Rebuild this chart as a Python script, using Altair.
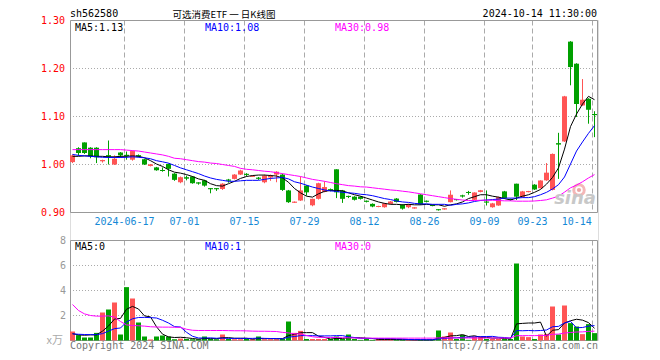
import altair as alt
import pandas as pd

# ---------------- data ----------------
opens = [1.005, 1.034, 1.046, 1.035, 1.035, 1.007, 1.019, 1.000, 1.025, 1.020,
         1.010, 1.019, 1.011, 0.997, 0.994, 0.988, 1.001, 0.981, 0.963, 0.973,
         0.975, 0.962, 0.967, 0.950, 0.950, 0.949, 0.968, 0.970, 0.979, 0.980,
         0.975, 0.972, 0.963, 0.973, 0.979, 0.979, 0.946, 0.921, 0.925, 0.956,
         0.915, 0.9285, 0.943, 0.948, 0.990, 0.946, 0.934, 0.933, 0.933, 0.924,
         0.918, 0.912, 0.911, 0.918, 0.929, 0.916, 0.911, 0.909, 0.9375, 0.924,
         0.915, 0.906, 0.907, 0.9215, 0.927, 0.935, 0.942, 0.9265, 0.943, 0.922,
         0.911, 0.9146, 0.944, 0.928, 0.960, 0.932, 0.943, 0.958, 0.9506, 0.967,
         0.947, 1.044, 1.048, 1.256, 1.210, 1.123, 1.137, 1.105]
closes = [1.019, 1.024, 1.024, 1.017, 1.015, 1.009, 1.017, 1.012, 1.019, 1.018,
          1.028, 1.017, 1.000, 1.000, 0.988, 0.987, 0.991, 0.968, 0.9735, 0.971,
          0.961, 0.961, 0.956, 0.949, 0.949, 0.960, 0.967, 0.979, 0.9875, 0.979,
          0.976, 0.971, 0.977, 0.977, 0.985, 0.947, 0.9215, 0.922, 0.946, 0.942,
          0.9285, 0.961, 0.953, 0.947, 0.942, 0.9285, 0.933, 0.9265, 0.9285, 0.923,
          0.9125, 0.913, 0.919, 0.923, 0.922, 0.908, 0.917, 0.910, 0.917, 0.923,
          0.914, 0.9055, 0.908, 0.937, 0.9265, 0.934, 0.9415, 0.9417, 0.946, 0.9215,
          0.919, 0.932, 0.930, 0.926, 0.933, 0.944, 0.944, 0.948, 0.9667, 0.983,
          1.022, 1.042, 1.142, 1.203, 1.126, 1.135, 1.114, 1.103]
highs = [1.021, 1.036, 1.046, 1.036, 1.036, 1.010, 1.050, 1.019, 1.026, 1.027,
         1.029, 1.021, 1.012, 1.001, 0.995, 0.994, 1.002, 0.982, 0.975, 0.977,
         0.976, 0.963, 0.968, 0.951, 0.951, 0.961, 0.970, 0.980, 0.989, 0.982,
         0.977, 0.974, 0.979, 0.979, 0.986, 0.981, 0.947, 0.923, 0.975, 0.957,
         0.929, 0.962, 0.965, 0.950, 0.990, 0.947, 0.935, 0.934, 0.934, 0.925,
         0.919, 0.914, 0.920, 0.924, 0.930, 0.917, 0.918, 0.911, 0.938, 0.925,
         0.916, 0.907, 0.909, 0.946, 0.928, 0.937, 0.945, 0.942, 0.947, 0.946,
         0.920, 0.933, 0.945, 0.929, 0.960, 0.945, 0.945, 0.959, 0.967, 1.003,
         1.023, 1.066, 1.143, 1.257, 1.211, 1.178, 1.138, 1.111]
lows = [1.003, 1.018, 1.022, 1.013, 1.003, 1.004, 1.000, 0.999, 1.014, 1.010,
        1.008, 1.015, 0.999, 0.996, 0.987, 0.985, 0.975, 0.966, 0.961, 0.967,
        0.960, 0.958, 0.954, 0.940, 0.945, 0.947, 0.962, 0.969, 0.978, 0.975,
        0.974, 0.968, 0.961, 0.966, 0.963, 0.945, 0.920, 0.920, 0.924, 0.935,
        0.913, 0.927, 0.942, 0.944, 0.930, 0.920, 0.930, 0.925, 0.927, 0.921,
        0.911, 0.911, 0.910, 0.917, 0.921, 0.906, 0.909, 0.908, 0.916, 0.921,
        0.913, 0.904, 0.906, 0.921, 0.925, 0.931, 0.937, 0.926, 0.942, 0.9146,
        0.910, 0.914, 0.929, 0.925, 0.926, 0.931, 0.942, 0.947, 0.950, 0.966,
        0.946, 0.970, 1.047, 1.165, 1.099, 1.122, 1.085, 1.057]
volumes = [0.72, 0.43, 0.24, 0.24, 0.61, 2.24, 2.48, 3.04, 0.48, 4.27,
           3.36, 1.44, 0.32, 0.08, 0.32, 0.40, 0.32, 0.10, 0.15, 0.12,
           0.10, 0.10, 0.32, 0.12, 0.10, 0.48, 0.12, 0.10, 0.10, 0.12,
           0.10, 0.32, 0.10, 0.10, 0.10, 0.12, 1.52, 0.61, 0.77, 0.12,
           0.12, 0.12, 0.12, 0.12, 0.32, 0.12, 0.48, 0.12, 0.05, 0.12,
           0.05, 0.12, 0.05, 0.12, 0.05, 0.05, 0.05, 0.05, 0.05, 0.05,
           0.05, 0.80, 0.32, 0.64, 0.12, 0.45, 0.05, 0.32, 0.32, 0.12,
           0.12, 0.12, 0.12, 0.12, 6.16, 0.32, 0.27, 0.12, 0.48, 0.53,
           2.72, 0.48, 2.80, 1.39, 1.12, 0.51, 1.31, 0.59]
ma5 = [1.017, 1.017, 1.018, 1.018, 1.017, 1.017, 1.016, 1.016, 1.017, 1.017,
       1.018, 1.017, 1.014, 1.008, 1.001, 0.996, 0.989, 0.984, 0.982, 0.979,
       0.975, 0.970, 0.967, 0.960, 0.956, 0.955, 0.960, 0.965, 0.971, 0.975,
       0.977, 0.978, 0.978, 0.977, 0.976, 0.972, 0.963, 0.950, 0.941, 0.934,
       0.932, 0.939, 0.944, 0.946, 0.946, 0.945, 0.941, 0.937, 0.934, 0.930,
       0.926, 0.922, 0.919, 0.917, 0.917, 0.916, 0.917, 0.916, 0.916, 0.917,
       0.916, 0.916, 0.913, 0.916, 0.918, 0.922, 0.929, 0.933, 0.937, 0.937,
       0.934, 0.932, 0.929, 0.926, 0.930, 0.934, 0.937, 0.942, 0.948, 0.959,
       0.973, 0.993, 1.032, 1.079, 1.105, 1.126, 1.142, 1.135]
ma10 = [1.021, 1.019, 1.018, 1.017, 1.016, 1.015, 1.0146, 1.0146, 1.0146, 1.015,
        1.016, 1.015, 1.014, 1.012, 1.008, 1.0056, 1.0028, 0.998, 0.993, 0.989,
        0.985, 0.981, 0.976, 0.972, 0.969, 0.967, 0.965, 0.965, 0.966, 0.967,
        0.967, 0.967, 0.969, 0.971, 0.972, 0.973, 0.970, 0.964, 0.961, 0.957,
        0.953, 0.950, 0.947, 0.945, 0.944, 0.942, 0.941, 0.940, 0.938, 0.937,
        0.935, 0.932, 0.929, 0.927, 0.924, 0.922, 0.921, 0.919, 0.918, 0.918,
        0.917, 0.917, 0.917, 0.915, 0.917, 0.918, 0.920, 0.923, 0.925, 0.926,
        0.927, 0.928, 0.930, 0.930, 0.930, 0.931, 0.931, 0.933, 0.937, 0.942,
        0.949, 0.958, 0.974, 1.001, 1.028, 1.047, 1.065, 1.081]
ma30 = [1.031, 1.031, 1.031, 1.031, 1.031, 1.031, 1.031, 1.031, 1.031, 1.030,
        1.029, 1.028, 1.026, 1.024, 1.022, 1.020, 1.017, 1.013, 1.012, 1.010,
        1.008, 1.006, 1.005, 1.003, 1.002, 1.000, 0.998, 0.996, 0.992, 0.990,
        0.989, 0.9875, 0.986, 0.985, 0.983, 0.981, 0.979, 0.977, 0.975, 0.972,
        0.969, 0.967, 0.965, 0.9625, 0.960, 0.958, 0.956, 0.955, 0.9535, 0.953,
        0.9515, 0.950, 0.9486, 0.947, 0.946, 0.9444, 0.943, 0.941, 0.939, 0.937,
        0.935, 0.933, 0.931, 0.929, 0.9275, 0.926, 0.925, 0.925, 0.9255, 0.9255,
        0.9255, 0.925, 0.9243, 0.9243, 0.9236, 0.9236, 0.9236, 0.924, 0.925, 0.9264,
        0.930, 0.934, 0.9424, 0.9514, 0.957, 0.964, 0.972, 0.979]
vma5 = [0.55, 0.45, 0.42, 0.45, 0.45, 0.75, 1.16, 1.72, 1.77, 2.50,
        2.73, 2.52, 1.97, 1.89, 1.10, 0.51, 0.29, 0.24, 0.26, 0.22,
        0.16, 0.11, 0.16, 0.15, 0.15, 0.22, 0.23, 0.18, 0.18, 0.18,
        0.11, 0.15, 0.15, 0.15, 0.14, 0.15, 0.39, 0.49, 0.62, 0.63,
        0.63, 0.35, 0.25, 0.12, 0.16, 0.16, 0.23, 0.23, 0.22, 0.18,
        0.16, 0.09, 0.08, 0.09, 0.08, 0.07, 0.06, 0.05, 0.05, 0.05,
        0.05, 0.20, 0.25, 0.37, 0.39, 0.47, 0.32, 0.38, 0.26, 0.25,
        0.19, 0.20, 0.16, 0.12, 1.33, 1.37, 1.40, 1.40, 1.47, 0.34,
        0.82, 0.87, 1.40, 1.58, 1.70, 1.63, 1.43, 0.98]
vma10 = [0.53, 0.50, 0.48, 0.47, 0.47, 0.55, 0.75, 0.95, 1.00, 1.48,
         1.74, 1.84, 1.85, 1.83, 1.80, 1.62, 1.40, 1.11, 1.08, 0.66,
         0.34, 0.20, 0.20, 0.21, 0.18, 0.19, 0.17, 0.17, 0.17, 0.17,
         0.17, 0.19, 0.17, 0.16, 0.16, 0.13, 0.27, 0.32, 0.39, 0.39,
         0.39, 0.37, 0.37, 0.37, 0.39, 0.39, 0.29, 0.24, 0.17, 0.17,
         0.16, 0.16, 0.155, 0.155, 0.13, 0.12, 0.08, 0.07, 0.07, 0.06,
         0.06, 0.13, 0.16, 0.21, 0.22, 0.26, 0.26, 0.285, 0.31, 0.32,
         0.33, 0.26, 0.24, 0.19, 0.79, 0.78, 0.80, 0.78, 0.80, 0.84,
         1.10, 1.13, 1.40, 1.53, 1.02, 1.04, 1.15, 1.19]
vma30 = [2.88, 2.40, 2.13, 2.00, 1.95, 1.95, 1.97, 1.87, 1.52, 1.25,
         1.20, 1.18, 1.15, 1.10, 1.08, 1.07, 1.07, 1.06, 1.05, 0.90,
         0.82, 0.80, 0.80, 0.80, 0.80, 0.80, 0.79, 0.78, 0.78, 0.77,
         0.75, 0.74, 0.74, 0.73, 0.72, 0.65, 0.61, 0.53, 0.54, 0.40,
         0.30, 0.25, 0.25, 0.24, 0.24, 0.22, 0.22, 0.20, 0.19, 0.19,
         0.19, 0.19, 0.19, 0.19, 0.19, 0.19, 0.19, 0.19, 0.19, 0.19,
         0.19, 0.21, 0.21, 0.22, 0.20, 0.20, 0.20, 0.20, 0.20, 0.20,
         0.20, 0.20, 0.20, 0.20, 0.38, 0.39, 0.39, 0.39, 0.40, 0.41,
         0.50, 0.51, 0.60, 0.64, 0.68, 0.69, 0.73, 0.75]

tick_index = [9, 19, 29, 39, 49, 59, 69, 77, 87]
tick_labels = ["2024-06-17", "07-01", "07-15", "07-29", "08-12",
               "08-26", "09-09", "09-23", "10-14"]
price_ticks = [1.30, 1.20, 1.10, 1.00, 0.90]
price_grid = [1.20, 1.10, 1.00]
vol_ticks = [8, 6, 4, 2]
vol_grid = [6, 4, 2]

# ---------------- styling ----------------
RED = "#ff5555"
GREEN = "#00a000"
GRID = "#aaaaaa"
FRAME = "#999999"
MONO = "DejaVu Sans Mono"
CJK = "Noto Sans CJK SC"
W, H = 528, 320

n = len(closes)
df = pd.DataFrame({
    "i": list(range(n)), "open": opens, "high": highs, "low": lows,
    "close": closes, "vol": volumes, "ma5": ma5, "ma10": ma10, "ma30": ma30,
    "vma5": vma5, "vma10": vma10, "vma30": vma30,
})
df["dir"] = ["up" if c >= o else "down" for o, c in zip(opens, closes)]

X = alt.Scale(domain=[0, 88], nice=False, zero=False)
PY = alt.Scale(domain=[0.90, 1.30], range=[192.5, 0.5], nice=False, zero=False)
VY = alt.Scale(domain=[0, 8], range=[320.5, 220.5], nice=False, zero=False)
colr = alt.Color("dir:N", scale=alt.Scale(domain=["up", "down"], range=[RED, GREEN]), legend=None)

base = alt.Chart(df).transform_calculate(
    xl="datum.i", xr="datum.i + 5/6", xm="datum.i + 2.5/6",
    mid="(datum.open + datum.close) / 2",
)

def xq(f):
    return alt.X(f, type="quantitative", scale=X, axis=None)

def py(f):
    return alt.Y(f, type="quantitative", scale=PY, axis=None)

def vy(f):
    return alt.Y(f, type="quantitative", scale=VY, axis=None)

# grid lines
pgrid = alt.Chart(pd.DataFrame({"v": price_grid})).mark_rule(
    color=GRID, strokeDash=[1, 2], strokeWidth=1
).encode(y=py("v"), x=alt.value(0), x2=alt.value(W))
vgrid = alt.Chart(pd.DataFrame({"v": vol_grid})).mark_rule(
    color=GRID, strokeDash=[1, 2], strokeWidth=1
).encode(y=vy("v"), x=alt.value(0), x2=alt.value(W))

ticks_df = pd.DataFrame({"i": tick_index, "label": tick_labels})
tick_base = alt.Chart(ticks_df).transform_calculate(
    tx="datum.i + 0.5/6", lx="min(datum.i + 0.5/6, 84.45)"
)
pdash = tick_base.mark_rule(color=GRID, strokeDash=[5, 3], strokeWidth=1).encode(
    x=xq("tx"), y=alt.value(0.5), y2=alt.value(192.5))
vdash = tick_base.mark_rule(color=GRID, strokeDash=[5, 3], strokeWidth=1).encode(
    x=xq("tx"), y=alt.value(220.5), y2=alt.value(320.5))
date_labels = tick_base.mark_text(
    font=MONO, fontSize=10, color="#1589d6", align="center", baseline="alphabetic"
).encode(x=xq("lx"), y=alt.value(205), text="label:N")

one = pd.DataFrame({"k": [0]})
pframe = alt.Chart(one).mark_rect(fillOpacity=0, stroke=FRAME, strokeWidth=1).encode(
    x=alt.value(0.5), x2=alt.value(W - 0.5), y=alt.value(0.5), y2=alt.value(192.5))
vframe = alt.Chart(one).mark_rect(fillOpacity=0, stroke=FRAME, strokeWidth=1).encode(
    x=alt.value(0.5), x2=alt.value(W - 0.5), y=alt.value(220.5), y2=alt.value(320.5))

# watermark logo (eye + "sina")
eye_ring = alt.Chart(one).mark_point(
    filled=False, shape="circle", size=110, strokeWidth=3, color="#f3b0b0", opacity=0.9
).encode(x=alt.value(509), y=alt.value(170))
eye_dot = alt.Chart(one).mark_point(
    filled=True, shape="circle", size=18, color="#e89a9a", opacity=0.9
).encode(x=alt.value(509), y=alt.value(170))

# candles
wick = base.mark_rule(strokeWidth=1).encode(x=xq("xm"), y=py("low"), y2="high:Q", color=colr)
body = base.mark_rect().encode(x=xq("xl"), x2="xr:Q", y=py("open"), y2="close:Q", color=colr)
doji = base.mark_rule(strokeWidth=1).encode(x=xq("xl"), x2="xr:Q", y=py("mid"), color=colr)

l5 = base.mark_line(color="black", strokeWidth=1).encode(x=xq("xm"), y=py("ma5"))
l10 = base.mark_line(color="#0000ff", strokeWidth=1).encode(x=xq("xm"), y=py("ma10"))
l30 = base.mark_line(color="#ff00ff", strokeWidth=1).encode(x=xq("xm"), y=py("ma30"))

# volume
vbar = base.mark_rect().encode(x=xq("xl"), x2="xr:Q", y=vy("vol"), y2=alt.datum(0), color=colr)
v5 = base.mark_line(color="black", strokeWidth=1).encode(x=xq("xm"), y=vy("vma5"))
v10 = base.mark_line(color="#0000ff", strokeWidth=1).encode(x=xq("xm"), y=vy("vma10"))
v30 = base.mark_line(color="#ff00ff", strokeWidth=1).encode(x=xq("xm"), y=vy("vma30"))

# axis labels
plabels = alt.Chart(pd.DataFrame({"v": price_ticks})).transform_calculate(
    t="format(datum.v, '.2f')"
).mark_text(font=MONO, fontSize=10, color="#ff0000", align="right", baseline="middle").encode(
    y=py("v"), x=alt.value(-5), text="t:N")
vlabels = alt.Chart(pd.DataFrame({"v": vol_ticks})).mark_text(
    font=MONO, fontSize=10, color="#999999", align="right", baseline="middle"
).encode(y=vy("v"), x=alt.value(-4), text="v:Q")

def txt(s, x, y, color="black", align="left", size=10, font=MONO, **kw):
    return alt.Chart(one).mark_text(
        text=s, font=font, fontSize=size, color=color, align=align,
        baseline="alphabetic", **kw
    ).encode(x=alt.value(x), y=alt.value(y))

texts = [
    txt("sh562580", 0, -3),
    txt("可选消费ETF 一 日K线图", 154, -1.8, size=9.5, font=CJK, align="center"),
    txt("2024-10-14 11:30:00", W - 1, -3, align="right"),
    txt("MA5:1.13", 5, 10.5),
    txt("MA10:1.08", 135, 10.5, color="#0000ff"),
    txt("MA30:0.98", 265, 10.5, color="#ff00ff"),
    txt("MA5:0", 5, 230),
    txt("MA10:1", 135, 230, color="#0000ff"),
    txt("MA30:0", 265, 230, color="#ff00ff"),
    txt("x万", -7, 324, color="#aaaaaa", align="right", size=11, font=CJK),
    txt("Copyright 2024 SINA.COM", 0, 329, color="#777777"),
    txt("http://finance.sina.com.cn", W, 329, color="#777777", align="right"),
    txt("sina", W - 2, 184, color="#c8c8c8", align="right", size=18,
        font="DejaVu Sans", fontStyle="italic", fontWeight="bold"),
]

chart = alt.layer(
    pgrid, vgrid, pdash, vdash, pframe, vframe, eye_ring, eye_dot,
    wick, body, doji, l5, l10, l30,
    vbar, v5, v10, v30,
    plabels, vlabels, date_labels, *texts,
).resolve_scale(y="independent").properties(
    width=W, height=H,
    autosize=alt.AutoSizeParams(type="none"),
    padding={"left": 62, "top": 12, "right": 40, "bottom": 16},
).configure_view(stroke=None).configure(background="white")

chart.save("out.html", embed_options={"renderer": "svg", "actions": False})
